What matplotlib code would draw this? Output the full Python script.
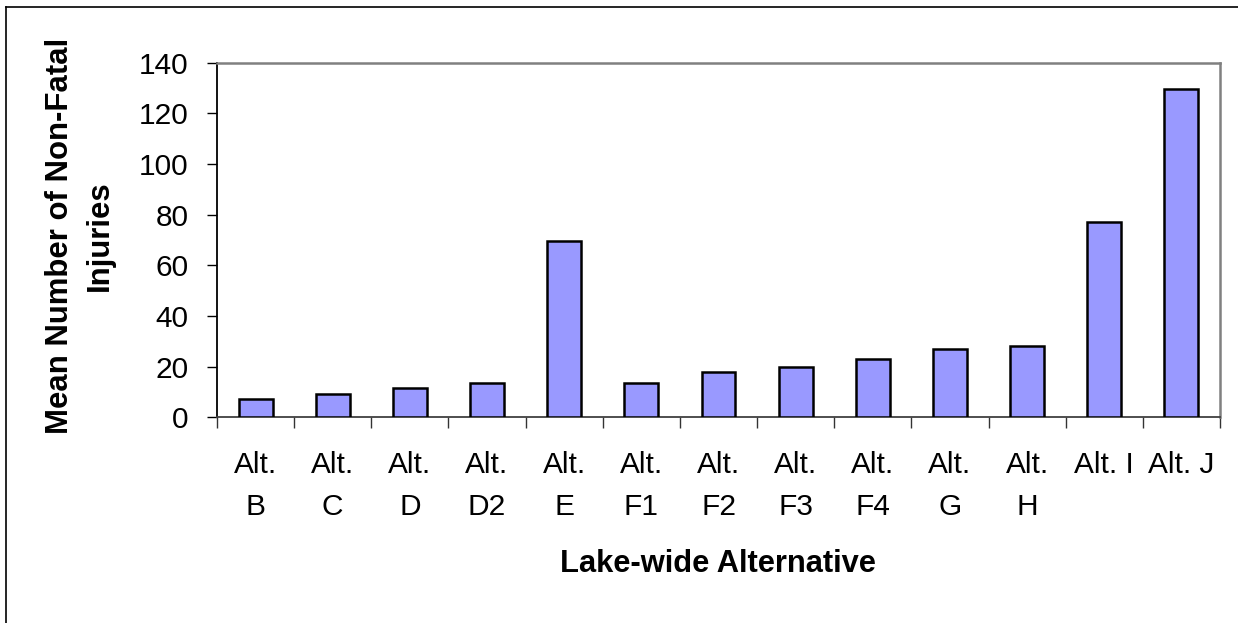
import matplotlib
matplotlib.use('Agg')
import matplotlib.pyplot as plt
import numpy as np
from matplotlib.lines import Line2D

categories = ['Alt.\nB', 'Alt.\nC', 'Alt.\nD', 'Alt.\nD2', 'Alt.\nE', 'Alt.\nF1', 'Alt.\nF2',
              'Alt.\nF3', 'Alt.\nF4', 'Alt.\nG', 'Alt.\nH', 'Alt. I', 'Alt. J']
injuries = [7.2, 9.3, 11.4, 13.5, 69.6, 13.5, 17.8, 19.9, 22.9, 27.1, 28.1, 77.0, 129.7]
y_ticks = [0, 20, 40, 60, 80, 100, 120, 140]

plt.rcParams['font.family'] = ['Liberation Sans', 'DejaVu Sans']

W, H = 1238, 623
fig = plt.figure(figsize=(W / 100, H / 100), dpi=100)
ax = fig.add_axes([217 / W, 1 - 417.3 / H, 1003 / W, 354.6 / H])

x = np.arange(len(categories))
ax.bar(x, injuries, width=0.44, color='#9999FF', edgecolor='black', linewidth=1.8, zorder=3)

ax.set_xlim(-0.5, len(categories) - 0.5)
ax.set_ylim(0, 140)
ax.set_yticks(y_ticks)
ax.tick_params(axis='y', direction='out', length=7.5, width=1, pad=13, labelsize=21.5)

# labels at bar centres, tick marks at category boundaries
ax.set_xticks(x)
ax.set_xticklabels(categories, fontsize=21.5, linespacing=1.65, va='top')
ax.tick_params(axis='x', which='major', length=0, pad=24)
ax.set_xticks(np.arange(len(categories) + 1) - 0.5, minor=True)
ax.tick_params(axis='x', which='minor', direction='out', length=8, width=1, color='#333333')

ax.spines['left'].set_color('black')
ax.spines['left'].set_linewidth(1.3)
ax.spines['bottom'].set_color('#404040')
ax.spines['bottom'].set_linewidth(1.3)
for s in ['top', 'right']:
    ax.spines[s].set_color('#808080')
    ax.spines[s].set_linewidth(1.8)

fig.text(718 / W, 1 - 564 / H, 'Lake-wide Alternative', ha='center', va='center',
         fontsize=22.2, fontweight='bold')
fig.text(80 / W, 1 - 236 / H, 'Mean Number of Non-Fatal\nInjuries', ha='center', va='center',
         rotation=90, fontsize=22.4, fontweight='bold', linespacing=1.4, multialignment='center')

# outer chart border
fig.add_artist(Line2D([5.5 / W, 5.5 / W], [0, 1 - 7 / H], color='black', lw=1.2,
                      transform=fig.transFigure))
fig.add_artist(Line2D([5.5 / W, 1], [1 - 7 / H, 1 - 7 / H], color='black', lw=1.2,
                      transform=fig.transFigure))

fig.savefig('out.png', dpi=100)
